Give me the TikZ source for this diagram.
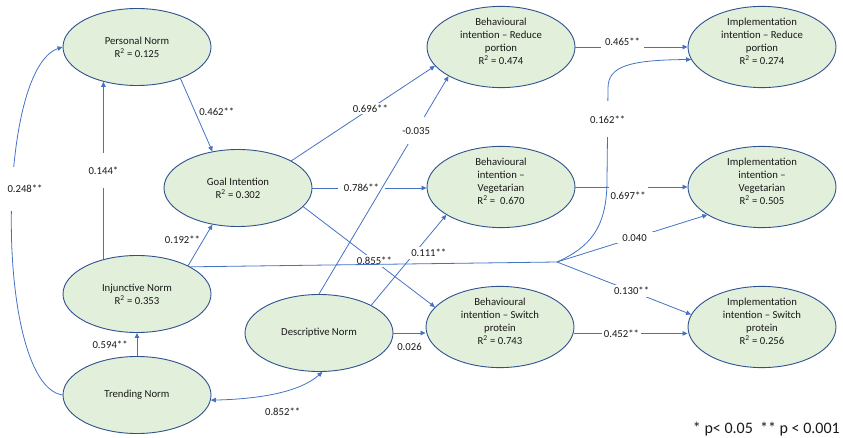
\documentclass[tikz,border=0pt]{standalone}
\usepackage{fontspec}
\setmainfont{Carlito}
\usetikzlibrary{shapes.geometric,arrows.meta}
\definecolor{nodefill}{HTML}{E2EFDA}
\definecolor{nodeline}{HTML}{2F528F}
\definecolor{edgecol}{HTML}{4472C4}
\begin{document}
\begin{tikzpicture}[x=1pt,y=-1pt,
  lat/.style={ellipse, draw=nodeline, line width=0.9pt, fill=nodefill, minimum width=148pt, minimum height=77pt, align=center, inner sep=0pt, text=black!90, font=\fontsize{10.7}{13}\selectfont},
  conn/.style={draw=edgecol, line width=0.8pt},
  arr/.style={conn, -{Triangle[length=5pt,width=4.5pt]}},
  arrtwo/.style={conn, {Triangle[length=5pt,width=4.5pt]}-{Triangle[length=5pt,width=4.5pt]}},
  lab/.style={fill=white, inner sep=2pt, text=black!90, font=\fontsize{10.7}{13}\selectfont},
  labside/.style={inner sep=2pt, text=black!90, font=\fontsize{10.7}{13}\selectfont}
]
\useasboundingbox (0,0) rectangle (843,438);

% nodes
\node[lat] (pn) at (137,47) {Personal Norm\\R\textsuperscript{2} = 0.125};
\node[lat] (gi) at (238,188) {Goal Intention\\R\textsuperscript{2} = 0.302};
\node[lat] (inj) at (137,294) {Injunctive Norm\\R\textsuperscript{2} = 0.353};
\node[lat] (tn) at (137,395) {Trending Norm};
\node[lat] (desc) at (319,333) {Descriptive Norm};
\node[lat] (bir) at (501,47) {Behavioural\\intention – Reduce\\portion\\R\textsuperscript{2} = 0.474\\[-2pt]\mbox{}};
\node[lat] (biv) at (501,187) {Behavioural\\intention –\\Vegetarian\\R\textsuperscript{2} =\ \ 0.670\\[-2pt]\mbox{}};
\node[lat] (bis) at (500,327) {Behavioural\\intention – Switch\\protein\\R\textsuperscript{2} = 0.743\\[-2pt]\mbox{}};
\node[lat] (ir) at (762,47) {Implementation\\intention – Reduce\\portion\\R\textsuperscript{2} = 0.274\\[-2pt]\mbox{}};
\node[lat] (iv) at (762,187) {Implementation\\intention –\\Vegetarian\\R\textsuperscript{2} = 0.505\\[-2pt]\mbox{}};
\node[lat] (is) at (762,327) {Implementation\\intention – Switch\\protein\\R\textsuperscript{2} = 0.256\\[-2pt]\mbox{}};

% left part
\draw[arr] (pn.-36) -- node[labside, pos=0.45, right=2pt]{0.462**} (gi.125);
\draw[arr] (inj.134) -- node[lab, pos=0.5, inner ysep=14pt]{0.144*} (inj.134 |- pn.226);
\draw[arr] (tn.west) .. controls (-5,385) and (-5,70) .. node[lab, pos=0.575, xshift=12pt, inner ysep=18pt]{0.248**} (pn.west);
\draw[arr] (tn.north) -- node[labside, left=7pt]{0.594**} (inj.south);
\draw[arr] (inj.29) -- node[labside, pos=0.63, left=1pt]{0.192**} (gi.235);
\draw[arrtwo] (tn.-4) .. controls (260,399) and (300,392) .. node[labside, pos=0.5, below=12pt, xshift=6pt]{0.852**} (desc.-85);

% middle part
\draw[arr] (gi.27) -- node[lab, pos=0.55, inner xsep=4pt]{0.696**} (bir.196);
\draw[arr] (gi.east) -- node[lab, pos=0.43, inner xsep=6pt]{0.786**} (gi.east -| biv.west);
\draw[arr] (gi.-16) -- node[lab, pos=0.54]{0.855**} (bis.163);
\draw[arr] (desc.north) -- node[lab, pos=0.75, inner ysep=10pt]{-0.035} (bir.209);
\draw[arr] (desc.28) -- node[lab, pos=0.58, xshift=14pt]{0.111**} (biv.207);
\draw[arr] (desc.east) -- node[labside, below=8pt]{0.026} (desc.east -| bis.west);

% right part
\draw[arr] (bir.east) -- node[lab, pos=0.42, yshift=5pt, inner xsep=4pt]{0.465**} (ir.west);
\draw[arr] (biv.east) -- node[lab, pos=0.47, yshift=-9pt, inner ysep=6pt]{0.697**} (biv.east -| iv.west);
\draw[arr] (bis.-5) -- node[lab, pos=0.42]{0.452**} (bis.-5 -| is.west);

% hub branches
\coordinate (hub) at (557,262);
\draw[arr] (hub) .. controls (590,247) and (607,228) .. (607,180) -- node[lab, pos=0.66, inner ysep=14pt]{0.162**} (608,88) .. controls (608,66) and (630,60) .. (ir.190);
\draw[arr] (hub) -- node[lab, pos=0.516, inner xsep=12pt]{0.040} (iv.207);
\draw[arr] (hub) -- node[lab, pos=0.556]{0.130**} (is.170);
\draw[conn] (inj.27) -- (hub);

% legend
\node[anchor=base east, inner sep=0pt, text=black!90, font=\fontsize{16}{19}\selectfont] (legend) at (840,433) {* p< 0.05\ \ ** p < 0.001};
\end{tikzpicture}
\end{document}
